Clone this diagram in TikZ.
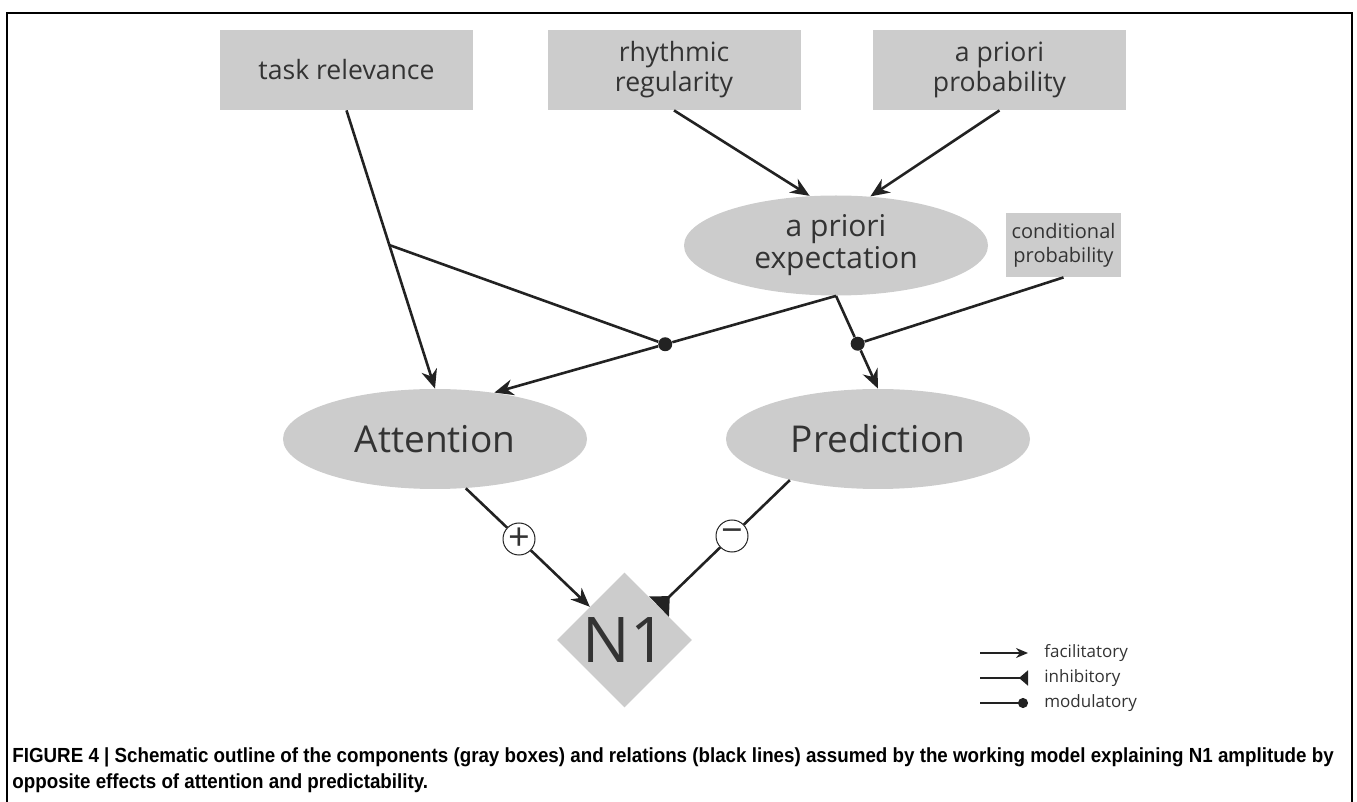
\documentclass[tikz,border=0pt]{standalone}
\usepackage{fontspec}
\setmainfont{Open Sans}
\newfontfamily\capfont[FakeStretch=0.92]{Liberation Sans}
\usetikzlibrary{shapes.geometric,arrows.meta,calc}

\definecolor{boxgray}{HTML}{CCCCCC}
\definecolor{txtgray}{HTML}{333333}
\definecolor{linegray}{HTML}{222222}

\begin{document}
\begin{tikzpicture}[x=0.5pt,y=-0.5pt]

		\tikzstyle{box}=[rectangle,fill=boxgray,text=txtgray,
			minimum height=40pt,minimum width=126.5pt,
			align=center,inner sep=0pt,
			font=\fontsize{13.3}{15}\selectfont]
		\tikzstyle{oval}=[ellipse,fill=boxgray,text=txtgray,
			minimum height=50pt,minimum width=152pt,
			align=center,inner sep=0pt]
		\tikzstyle{sign}=[circle,draw=linegray,line width=0.5pt,fill=white,
			minimum size=16pt,inner sep=0pt,text=txtgray,
			font=\fontsize{19}{19}\selectfont]
		\tikzstyle{dot}=[circle,fill=linegray,minimum size=7pt,inner sep=0pt]
		\tikzstyle{legend}=[anchor=west,inner sep=0pt,text=txtgray,
			font=\fontsize{8.5}{10}\selectfont]
		\tikzstyle{line}=[draw=linegray,line width=1.3pt]
		\tikzstyle{arrow}=[line,-{Stealth[length=9.5pt,width=8pt]}]
		\tikzstyle{inhib}=[line,-{Triangle[reversed,length=7.5pt,width=14pt]}]

		\useasboundingbox (0,0) rectangle (1357,802);
		\draw[line width=1pt] (7,802) -- (7,13) -- (1352,13) -- (1352,802);

		% components
		\node[box]	(task)	at (346.5,70)	{task relevance};
		\node[box]	(rhy)	at (674,70)	{rhythmic\\ regularity};
		\node[box]	(apr)	at (999.5,70)	{a priori\\ probability};
		\node[oval,font=\fontsize{15}{16}\selectfont]	(exp)	at (836,245.5)	{a priori\\ expectation};
		\node[box,minimum width=57.5pt,minimum height=32pt,
			font=\fontsize{10}{12}\selectfont]	(cond)	at (1063.5,245)	{conditional\\ probability};
		\node[oval,font=\fontsize{18.5}{20}\selectfont]	(att)	at (435,439)	{Attention};
		\node[oval,font=\fontsize{18.5}{20}\selectfont]	(pred)	at (878,439)	{Prediction};
		\node[diamond,fill=boxgray,text=txtgray,minimum size=67.5pt,inner sep=0pt,
			font=\fontsize{31.5}{31.5}\selectfont]	(n1)	at (624.5,640)	{N1};
		\node[sign]	(plus)	at (519,539)	{+};
		\node[sign]	(minus)	at (732,536)	{−};

		\coordinate	(jn)	at ($(task.south)!0.484!(att.north)$);
		\node[dot]	(m1)	at ($(exp.south)!0.5!(att.38)$)	{};
		\node[dot]	(m2)	at ($(exp.south)!0.516!(pred.north)$)	{};

		% relations
		\draw[arrow]	(task.south)	--	(att.north);
		\draw[line]	(jn)		--	(m1);
		\draw[arrow]	(rhy.south)	--	(exp.118);
		\draw[arrow]	(apr.south)	--	(exp.55);
		\draw[arrow]	(exp.south)	--	(m1)	--	(att.38);
		\draw[arrow]	(exp.south)	--	(m2)	--	(pred.north);
		\draw[line]	(cond.south)	--	(m2);

		\draw[line]	(att.-58)	--	(plus);
		\draw[arrow]	(plus)		--	(n1);
		\draw[line]	(pred.205)	--	(minus);
		\draw[inhib]	(minus)		--	(n1);

		% legend
		\node[legend]	(fac)	at (1044,653)	{facilitatory};
		\node[legend]	(inh)	at (1044,678)	{inhibitory};
		\node[legend]	(mod)	at (1044,703)	{modulatory};
		\coordinate	(fac0)	at (980,653);
		\coordinate	(inh0)	at (980,678);
		\coordinate	(mod0)	at (980,703);
		\draw[draw=linegray,line width=0.9pt,-{Stealth[length=6pt,width=5pt]},shorten >=8pt]
			(fac0) -- (fac.west);
		\draw[draw=linegray,line width=0.9pt,-{Triangle[reversed,length=4.5pt,width=7.5pt]},shorten >=8pt]
			(inh0) -- (inh.west);
		\draw[draw=linegray,line width=0.9pt,-{Circle[length=5pt]},shorten >=8pt]
			(mod0) -- (mod.west);

		% caption
		\node[anchor=north west,inner sep=0pt,align=left,
			font=\capfont\bfseries\fontsize{10.2}{13}\selectfont]	(caption)	at (12,747)
			{FIGURE 4 | Schematic outline of the components (gray boxes) and relations (black lines) assumed by the working model explaining N1 amplitude by\\
			opposite effects of attention and predictability.};

	\end{tikzpicture}
\end{document}
